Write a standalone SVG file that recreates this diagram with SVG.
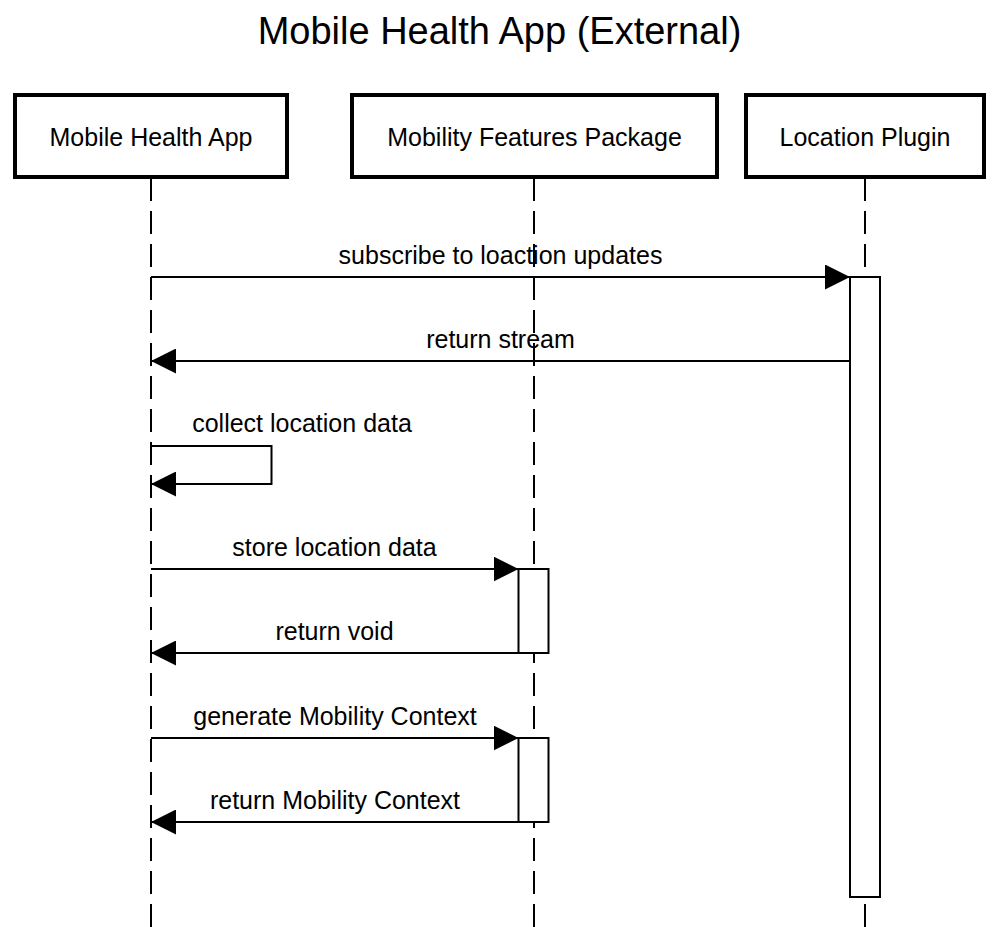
<svg xmlns="http://www.w3.org/2000/svg" width="999" height="927" viewBox="0 0 999 927">
<style>
text{font-family:"Liberation Sans",Arial,Helvetica,sans-serif;fill:#000;text-anchor:middle}
.title{font-size:38px}
.lbl{font-size:25px}
.msg{font-size:25px}
.box{fill:#fff;stroke:#000;stroke-width:4}
.life{stroke:#000;stroke-width:2;stroke-dasharray:23 10;fill:none}
.act{fill:#fff;stroke:#000;stroke-width:2}
.conn{stroke:#000;stroke-width:2;fill:none;marker-end:url(#ah)}
</style>
<defs>
<marker id="ah" markerUnits="userSpaceOnUse" markerWidth="25" markerHeight="25" refX="25" refY="12.5" orient="auto">
<path d="M0,0 L25,12.5 L0,25 Z" fill="#000"/>
</marker>
</defs>
<rect width="999" height="927" fill="#fff"/>
<text class="title" x="499.5" y="43.5">Mobile Health App (External)</text>
<g id="lifelines">
<line class="life" x1="151" y1="178" x2="151" y2="927"/>
<line class="life" x1="534" y1="178" x2="534" y2="927"/>
<line class="life" x1="865" y1="178" x2="865" y2="927"/>
</g>
<g id="node-mobile-health-app">
<rect class="box" x="15" y="95" width="272" height="82"/>
<text class="lbl" x="151" y="145.5">Mobile Health App</text>
</g>
<g id="node-mobility-features">
<rect class="box" x="352" y="95" width="365" height="82"/>
<text class="lbl" x="534.5" y="145.5">Mobility Features Package</text>
</g>
<g id="node-location-plugin">
<rect class="box" x="746" y="95" width="238" height="82"/>
<text class="lbl" x="865" y="145.5">Location Plugin</text>
</g>
<g id="activations">
<rect class="act" x="850" y="277" width="30" height="620"/>
<rect class="act" x="518.5" y="569" width="30" height="84"/>
<rect class="act" x="518.5" y="738" width="30" height="84"/>
</g>
<g id="connectors">
<line class="conn" x1="151" y1="277" x2="850" y2="277"/>
<text class="msg" x="500.5" y="264">subscribe to loaction updates</text>
<line class="conn" x1="850" y1="361" x2="151" y2="361"/>
<text class="msg" x="500.5" y="348">return stream</text>
<path class="conn" d="M151,446 H271.5 V484 H151"/>
<text class="msg" x="302" y="432">collect location data</text>
<line class="conn" x1="151" y1="569" x2="518.5" y2="569"/>
<text class="msg" x="334.5" y="556">store location data</text>
<line class="conn" x1="518.5" y1="653" x2="151" y2="653"/>
<text class="msg" x="334.5" y="640">return void</text>
<line class="conn" x1="151" y1="738" x2="518.5" y2="738"/>
<text class="msg" x="335" y="725">generate Mobility Context</text>
<line class="conn" x1="518.5" y1="822" x2="151" y2="822"/>
<text class="msg" x="335" y="809">return Mobility Context</text>
</g>
</svg>
